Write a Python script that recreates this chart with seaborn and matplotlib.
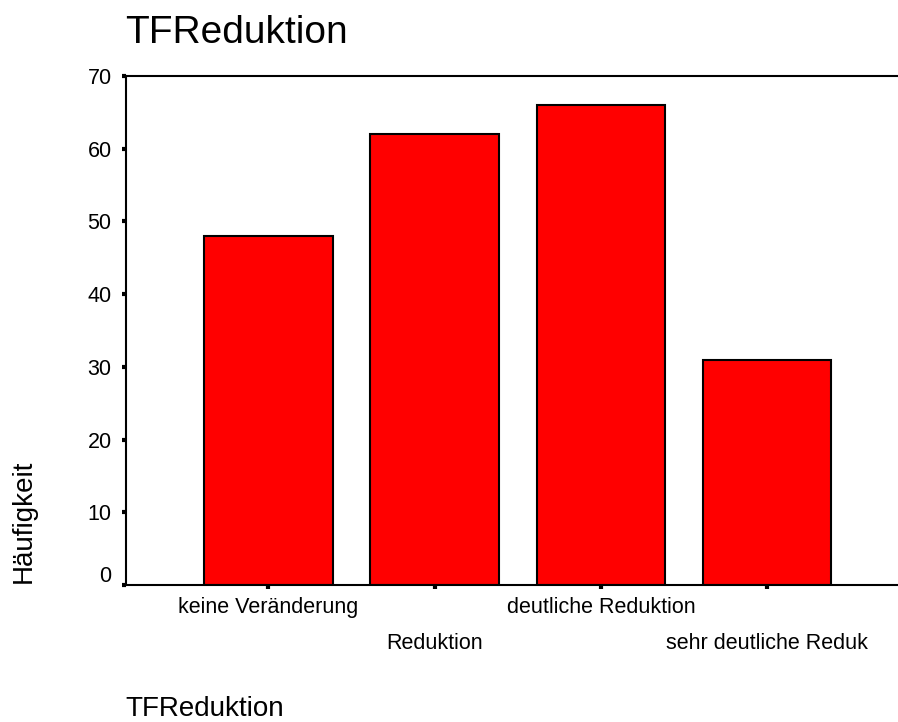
import seaborn as sns
import matplotlib.pyplot as plt
import pandas as pd
from matplotlib.transforms import ScaledTranslation

kategorien = ['keine Veränderung', 'Reduktion', 'deutliche Reduktion', 'sehr deutliche Reduk']
haeufigkeit = [48, 62, 66, 31]
y_ticks = [0, 10, 20, 30, 40, 50, 60, 70]

df = pd.DataFrame({'TFReduktion': kategorien, 'Häufigkeit': haeufigkeit})

sns.set_style('ticks')
plt.rcParams['font.family'] = ['Liberation Sans', 'DejaVu Sans']
plt.rcParams.update({'text.color': 'black', 'xtick.color': 'black',
                     'ytick.color': 'black', 'axes.labelcolor': 'black'})

fig = plt.figure(figsize=(8.98, 7.22), dpi=100)
ax = fig.add_axes([0.1398, 0.1898, 0.8602, 0.7049])

sns.barplot(data=df, x='TFReduktion', y='Häufigkeit', color='#ff0000',
            saturation=1, width=0.773, edgecolor='black', linewidth=1.5, ax=ax)

ax.set_xlim(-0.86, 3.788)
ax.set_ylim(0, 70)
ax.set_yticks(y_ticks)
ax.set_xlabel('')
ax.set_ylabel('')

ax.spines['right'].set_visible(False)
for s in ['top', 'left', 'bottom']:
    ax.spines[s].set_linewidth(1.5)
    ax.spines[s].set_color('black')

ax.tick_params(axis='y', direction='out', length=3, width=3, pad=7,
               labelsize=15.5, color='black', labelcolor='black')
ax.tick_params(axis='x', direction='out', length=3, width=3, pad=5.5,
               labelsize=15.5, color='black', labelcolor='black')

# versetzte Beschriftung wie in SPSS
for i, lab in enumerate(ax.get_xticklabels()):
    if i % 2 == 1:
        lab.set_transform(lab.get_transform() +
                          ScaledTranslation(0, -0.36, fig.dpi_scale_trans))
ylabs = ax.get_yticklabels()
ylabs[0].set_transform(ylabs[0].get_transform() +
                       ScaledTranslation(0, 0.11, fig.dpi_scale_trans))

# Titel und Achsentitel
fig.text(125 / 898, 1 - 43 / 722, 'TFReduktion', fontsize=28, va='baseline', ha='left')
fig.text(23.5 / 898, 1 - 521 / 722, 'Häufigkeit', fontsize=20, rotation=90,
         va='center', ha='center')
fig.text(125 / 898, 1 - 716 / 722, 'TFReduktion', fontsize=20, va='baseline', ha='left')

fig.savefig('out.png', dpi=100)
